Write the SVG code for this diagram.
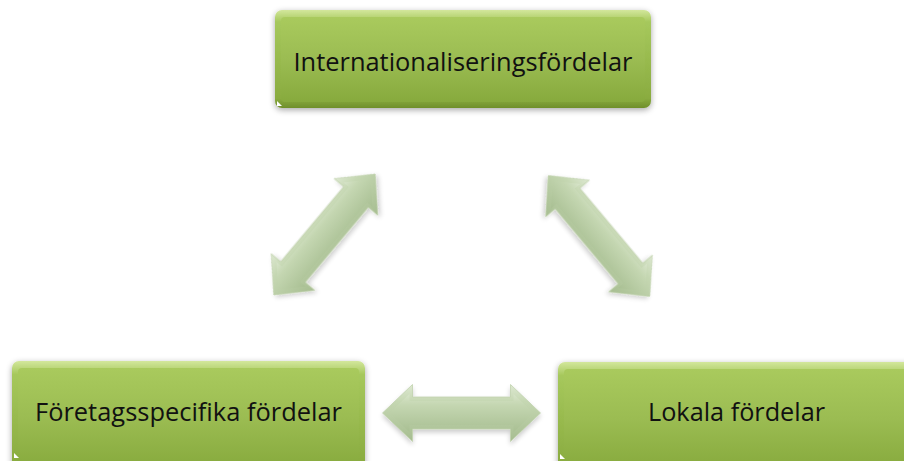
<svg xmlns="http://www.w3.org/2000/svg" width="904" height="461" viewBox="0 0 904 461">
  <defs>
    <linearGradient id="boxFill" x1="0" y1="0" x2="0" y2="1">
      <stop offset="0" stop-color="#a9ca5d"/>
      <stop offset="0.5" stop-color="#9bbc52"/>
      <stop offset="1" stop-color="#87aa3d"/>
    </linearGradient>
    <linearGradient id="boxEdge" x1="0" y1="0" x2="0" y2="1">
      <stop offset="0" stop-color="#d3e79c"/>
      <stop offset="0.12" stop-color="#a6c85c"/>
      <stop offset="0.9" stop-color="#8aac40"/>
      <stop offset="1" stop-color="#6f8f2a"/>
    </linearGradient>
    <linearGradient id="arrowFill" x1="0" y1="0" x2="0" y2="1">
      <stop offset="0" stop-color="#dde8d1"/>
      <stop offset="0.3" stop-color="#c5d7b2"/>
      <stop offset="1" stop-color="#a6bd90"/>
    </linearGradient>
    <filter id="shadow" x="-10%" y="-20%" width="120%" height="140%">
      <feGaussianBlur in="SourceAlpha" stdDeviation="3"/>
      <feOffset dx="0" dy="2" result="b"/>
      <feComponentTransfer><feFuncA type="linear" slope="0.35"/></feComponentTransfer>
      <feMerge><feMergeNode/><feMergeNode in="SourceGraphic"/></feMerge>
    </filter>
    <filter id="softShadow" x="-20%" y="-40%" width="140%" height="180%">
      <feGaussianBlur in="SourceAlpha" stdDeviation="2.5"/>
      <feOffset dx="0" dy="3" result="b"/>
      <feComponentTransfer><feFuncA type="linear" slope="0.2"/></feComponentTransfer>
      <feMerge><feMergeNode/><feMergeNode in="SourceGraphic"/></feMerge>
    </filter>
    <!-- double-headed block arrow, centred on the origin, pointing along x -->
    <polygon id="dblArrow" points="-79,0 -49,-28.5 -49,-16 49,-16 49,-28.5 79,0 49,28.5 49,16 -49,16 -49,28.5"/>
    <polygon id="dblArrowInner" points="-72,0 -52,-19 -52,-12 52,-12 52,-19 72,0 52,19 52,12 -52,12 -52,19"/>
  </defs>
  <style>
    .box { fill: url(#boxEdge); filter: url(#shadow); }
    .boxFace { fill: url(#boxFill); }
    .label { font-family: "Open Sans", "Liberation Sans", sans-serif; font-size: 26px; fill: #111; }
    .arrow { fill: url(#arrowFill); stroke: #c0d2ad; stroke-width: 0.8; filter: url(#softShadow); }
    .arrowHi { fill: url(#arrowFill); opacity: 0.6; }
    .notch { fill: #ffffff; }
  </style>

  <rect width="904" height="461" fill="#ffffff"/>

  <g id="connectors">
    <g transform="translate(324.5,234.5) rotate(-50)">
      <use href="#dblArrow" class="arrow"/>
      <use href="#dblArrowInner" class="arrowHi"/>
    </g>
    <g transform="translate(599,236) rotate(50)">
      <use href="#dblArrow" class="arrow"/>
      <use href="#dblArrowInner" class="arrowHi"/>
    </g>
    <g transform="translate(461.5,413)">
      <use href="#dblArrow" class="arrow"/>
      <use href="#dblArrowInner" class="arrowHi"/>
    </g>
  </g>

  <g id="node-internationalisering">
    <rect class="box" x="275" y="10" width="376" height="98" rx="7"/>
    <rect class="boxFace" x="281" y="17" width="364" height="85" rx="4"/>
    <polygon class="notch" points="277,101 277,106 282,106"/>
    <text class="label" x="463" y="71" text-anchor="middle" textLength="339" lengthAdjust="spacingAndGlyphs">Internationaliseringsfördelar</text>
  </g>

  <g id="node-foretagsspecifika">
    <rect class="box" x="12" y="361" width="353" height="112" rx="7"/>
    <rect class="boxFace" x="18" y="368" width="341" height="100" rx="4"/>
    <polygon class="notch" points="14,453 14,458 19,458"/>
    <text class="label" x="188.5" y="421" text-anchor="middle" textLength="307" lengthAdjust="spacingAndGlyphs">Företagsspecifika fördelar</text>
  </g>

  <g id="node-lokala">
    <rect class="box" x="558" y="362" width="362" height="112" rx="7"/>
    <rect class="boxFace" x="564" y="369" width="350" height="100" rx="4"/>
    <polygon class="notch" points="560,454 560,459 565,459"/>
    <text class="label" x="736.5" y="421" text-anchor="middle" textLength="177" lengthAdjust="spacingAndGlyphs">Lokala fördelar</text>
  </g>
</svg>
